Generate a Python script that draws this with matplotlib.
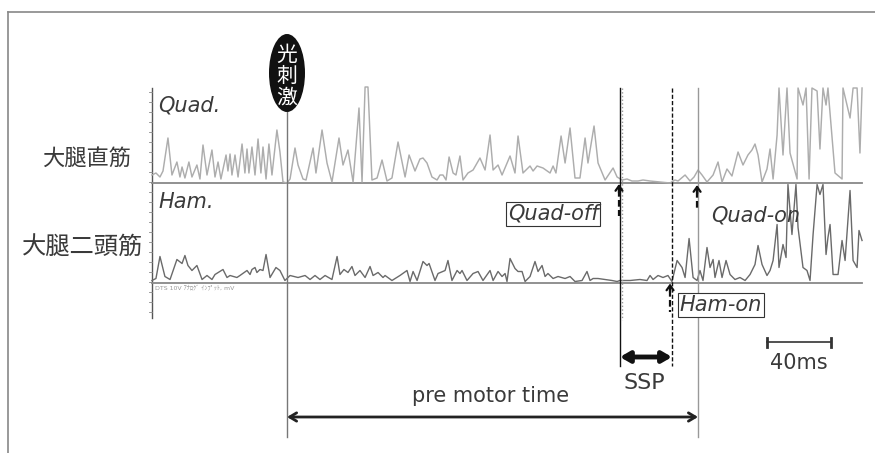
import numpy as np
import matplotlib
matplotlib.use('Agg')
import matplotlib.pyplot as plt
from matplotlib.patches import Ellipse

# EMG envelope vertices, time in ms from the light stimulus, amplitude in trace units
quad_t = [-84.4, -81.9, -79.4, -77.5, -74.4, -71.9, -68.8, -66.9, -65.6, -63.8,
          -61.3, -59.4, -56.3, -54.4, -52.5, -50.0, -46.9, -45.0, -43.1, -41.3,
          -38.1, -36.9, -35.6, -34.4, -32.5, -30.6, -28.1, -26.3, -25.0, -23.8,
          -21.9, -20.0, -18.1, -16.3, -15.0, -13.1, -11.3, -9.4, -6.3, -4.4,
          -2.5, 0.0,
          1.9, 5.0, 6.9, 10.0, 11.9, 16.3, 18.1, 21.9, 25.0, 28.1,
          32.5, 35.0, 38.1, 41.3, 45.0, 46.9, 48.8, 50.6, 53.1, 56.3,
          59.4, 62.5, 65.6, 69.4, 73.8, 76.3, 80.0, 83.1, 85.0, 87.5,
          90.6, 93.8, 95.6, 97.5, 99.4, 101.3, 103.8, 105.6, 108.1, 110.0,
          113.1, 116.3, 120.6, 123.8, 126.9, 128.8, 131.9, 134.4, 139.4, 142.5,
          144.4, 147.5, 151.9, 153.8, 156.3, 160.0, 164.4, 166.3, 168.1, 171.3,
          173.8, 176.9, 180.0, 183.1, 186.3, 188.1, 191.9, 194.4, 198.8, 203.8,
          206.3, 209.4, 212.5, 215.6, 219.4, 222.5, 226.9, 233.1, 239.4, 242.5,
          244.4, 248.8, 251.9, 254.4, 256.9, 259.4, 262.5, 266.3, 269.4, 271.9,
          275.0, 278.1, 281.9, 285.0, 288.1, 290.6, 292.5, 294.4, 296.9, 300.0,
          301.9, 303.8, 306.3, 307.5, 310.0, 312.5, 314.4, 318.8, 319.4, 322.5,
          324.4, 326.3, 328.1, 331.3, 333.1, 335.0, 336.9, 338.1,
          342.5, 346.9, 347.5, 351.9, 353.8, 356.3, 358.1, 359.4]
quad_amp = [8, 10, 6, 12, 45, 8, 21, 6, 16, 5,
            21, 6, 18, 4, 38, 8, 33, 6, 21, 4,
            28, 12, 29, 8, 28, 6, 39, 10, 34, 10,
            36, 8, 44, 10, 36, 4, 39, 8, 53, 31,
            1, 0,
            4, 35, 18, 4, 3, 35, 10, 53, 20, 1,
            45, 18, 33, 1, 75, 1, 96, 96, 3, 5,
            23, 2, 5, 41, 6, 28, 12, 24, 25, 20,
            6, 3, 8, 8, 3, 26, 10, 8, 27, 3,
            10, 13, 25, 13, 48, 13, 18, 8, 27, 10,
            47, 10, 17, 12, 17, 15, 10, 17, 10, 47,
            20, 55, 5, 5, 45, 20, 57, 20, 3, 15,
            6, 3, 4, 2, 2, 3, 2, 1, 0, 3,
            2, 8, 2, 6, 13, 8, 1, 8, 21, 1,
            14, 7, 31, 18, 28, 33, 39, 28, 1, 14,
            34, 4, 48, 95, 28, 95, 30, 4, 95, 78,
            95, 4, 95, 92, 34, 95, 78, 95,
            10, 4, 95, 65, 95, 95, 30, 95]

ham_t = [-84.4, -81.9, -79.4, -76.3, -73.1, -68.8, -65.6, -63.8, -61.9, -59.4,
         -56.3, -53.1, -50.0, -46.9, -45.0, -40.0, -37.5, -35.6, -31.3, -29.4,
         -25.0, -23.1, -21.9, -20.0, -18.8, -16.9, -15.0, -13.1, -10.6, -6.9,
         -4.4, -1.3, 1.9, 6.9, 11.3, 14.4, 17.5, 20.6, 23.8, 28.1,
         31.3, 33.1, 35.6, 38.1, 40.6, 42.5, 45.6, 48.8, 51.9, 53.8,
         56.9, 60.0,
         61.3, 65.6, 70.6, 75.0, 76.9, 78.8, 81.3, 85.0,
         87.5, 88.8, 92.5, 94.4, 98.8, 100.6, 103.1, 106.3, 108.1, 109.4,
         112.5, 116.3, 119.4, 122.5, 126.9, 128.8, 131.9, 134.4, 136.3, 137.5,
         139.4, 142.5, 144.4, 146.9, 148.8, 151.9, 155.0, 156.9, 159.4, 161.3,
         163.1, 166.3, 169.4, 173.8, 176.9, 180.0, 184.4, 187.5, 189.4, 191.3,
         194.4, 198.8, 203.1, 206.3,
         208.1, 214.4, 220.6, 225.0, 226.9, 228.8,
         231.9, 235.0, 238.1, 240.6, 243.8, 246.9, 248.8, 251.3, 253.8, 256.3,
         258.1, 260.0, 262.5, 264.4, 266.3, 267.5, 270.0, 271.9, 274.4, 276.9,
         280.0, 283.1, 286.3, 289.4, 292.5, 294.4, 296.9, 300.0, 301.9, 303.8,
         306.3, 307.5, 310.0, 311.9, 313.1, 315.6, 318.1, 319.4, 322.5, 325.0,
         326.9, 328.8, 331.3, 333.1, 335.0, 336.9, 338.1, 339.4, 341.3, 344.4,
         346.9, 348.8, 351.9, 353.8, 356.3, 357.5, 359.4]
ham_amp = [2, 4, 26, 6, 3, 23, 19, 27, 17, 12,
           17, 3, 7, 3, 8, 13, 5, 7, 5, 7,
           12, 8, 13, 15, 10, 13, 12, 28, 5, 15,
           12, 2, 7, 5, 7, 3, 7, 3, 7, 3,
           26, 8, 13, 10, 16, 7, 12, 5, 16, 7,
           10, 5,
           7, 2, 7, 12, 1, 11, 2, 21,
           17, 19, 2, 9, 12, 22, 2, 12, 9, 12,
           2, 9, 11, 2, 12, 2, 11, 6, 9, 1,
           24, 14, 11, 11, 1, 6, 21, 11, 17, 6,
           9, 4, 6, 4, 6, 1, 2, 11, 2, 4,
           4, 3, 2, 1,
           2, 2, 3, 2, 7, 3,
           7, 5, 7, 1, 22, 15, 5, 44, 5, 2,
           12, 2, 35, 15, 23, 5, 22, 5, 22, 8,
           3, 5, 2, 8, 18, 37, 18, 7, 12, 22,
           58, 15, 38, 25, 98, 48, 98, 55, 15, 12,
           2, 48, 98, 88, 98, 28, 45, 58, 8, 8,
           42, 22, 92, 22, 15, 52, 42]

# event times (ms after the light stimulus)
t_stim = 0.0
t_quad_off = 208.1
t_ham_on = 240.6
t_quad_on = 256.9
scale_start, scale_len = 300.0, 40.0

assert len(quad_t) == len(quad_amp) and len(ham_t) == len(ham_amp)

W, H = 875, 453
PX_PER_MS = 1.6
STIM_PX = 287
QUAD_BASE = 183
HAM_BASE = 282.5
TOP = 88


def ms(x_px):
    return (x_px - STIM_PX) / PX_PER_MS


jp = ['Noto Sans CJK JP', 'DejaVu Sans']
ink = '#3a3a3a'

fig = plt.figure(figsize=(W / 100, H / 100), dpi=100)
ax = fig.add_axes([0, 0, 1, 1])
ax.set_xlim(ms(0), ms(W))
ax.set_ylim(H, 0)
ax.axis('off')

# frame
ax.plot([ms(8), ms(W)], [12, 12], color='#888888', lw=1.2)
ax.plot([ms(8), ms(8)], [12, H], color='#888888', lw=1.2)

# recorder axis with ticks
ax.plot([ms(152), ms(152)], [TOP, 318], color='#555555', lw=1.0)
for y in np.arange(92, 318, 10):
    ax.plot([ms(149), ms(152)], [y, y], color='#888888', lw=0.6)

# baselines
ax.plot([ms(152), ms(862)], [QUAD_BASE, QUAD_BASE], color='#888888', lw=1.3)
ax.plot([ms(152), ms(862)], [HAM_BASE, HAM_BASE], color='#888888', lw=1.3)

# traces
ax.plot(quad_t, QUAD_BASE - np.array(quad_amp), color='#adadad', lw=1.05,
        solid_joinstyle='round')
ax.plot(ham_t, HAM_BASE - np.array(ham_amp), color='#6a6a6a', lw=1.0,
        solid_joinstyle='round')

# event lines
ax.plot([t_stim, t_stim], [112, 437], color='#777777', lw=1.0)
ax.plot([t_quad_off, t_quad_off], [TOP, 366], color='#111111', lw=1.0)
ax.plot([t_quad_off + 1.2, t_quad_off + 1.2], [TOP, 320], color='#999999', lw=1.0, ls=':')
ax.plot([t_ham_on, t_ham_on], [TOP, 366], color='#111111', lw=1.0, ls=(0, (3, 1.5)))
ax.plot([t_quad_on, t_quad_on], [TOP, 437], color='#999999', lw=1.0)


# small onset / offset arrows
def up_arrow(t, y_tip, y_tail):
    ax.plot([t, t], [y_tip + 6, y_tail], color='#111111', lw=1.6, ls=(0, (3, 1.5)))
    ax.annotate('', xy=(t, y_tip), xytext=(t, y_tip + 9),
                arrowprops=dict(arrowstyle='->,head_length=0.35,head_width=0.25',
                                color='#111111', lw=1.6, shrinkA=0, shrinkB=0))


up_arrow(t_quad_off - 0.6, QUAD_BASE + 1, 216)
up_arrow(t_quad_on - 0.6, QUAD_BASE + 2, 210)
up_arrow(t_ham_on - 1.2, HAM_BASE + 1, 312)

# light stimulus marker
ax.add_patch(Ellipse((t_stim, 73), width=36 / PX_PER_MS, height=78, fc='#111111', ec='none', zorder=5))
ax.text(t_stim, 76, '光\n刺\n激', color='white', fontsize=15, family=jp,
        ha='center', va='center', linespacing=0.95, zorder=6)

# labels
ax.text(ms(158), 105, 'Quad.', fontsize=15, style='italic', color=ink, ha='left', va='center')
ax.text(ms(158), 202, 'Ham.', fontsize=15, style='italic', color=ink, ha='left', va='center')
ax.text(ms(42), 158, '大腿直筋', fontsize=16, family=jp, color=ink, ha='left', va='center')
ax.text(ms(22), 247, '大腿二頭筋', fontsize=17.5, family=jp, color=ink, ha='left', va='center')
ax.text(ms(155), 288, 'DTS 10V ｱﾅﾛｸﾞ ｲﾝﾌﾟｯﾄ, mV', fontsize=4.5, color='#999999',
        family=['DejaVu Sans', 'Noto Sans CJK JP'], ha='left', va='center')

box = dict(boxstyle='square,pad=0.08', fc='white', ec='#333333', lw=0.8)
ax.text(ms(553), 214, 'Quad-off', fontsize=15, style='italic', color=ink,
        ha='center', va='center', bbox=box, zorder=7)
ax.text(ms(721), 305, 'Ham-on', fontsize=15, style='italic', color=ink,
        ha='center', va='center', bbox=box, zorder=7)
ax.text(ms(756), 215, 'Quad-on', fontsize=15, style='italic', color=ink,
        ha='center', va='center', zorder=7)

# SSP
ax.annotate('', xy=(t_ham_on, 357), xytext=(t_quad_off, 357),
            arrowprops=dict(arrowstyle='<|-|>,head_length=0.55,head_width=0.32',
                            color='#111111', lw=3.5, shrinkA=0, shrinkB=0))
ax.text((t_quad_off + t_ham_on) / 2 - 1, 383, 'SSP', fontsize=16, color=ink, ha='center', va='center')

# pre motor time
ax.annotate('', xy=(t_quad_on, 417), xytext=(t_stim, 417),
            arrowprops=dict(arrowstyle='<->,head_length=0.5,head_width=0.3',
                            color='#222222', lw=2.0, shrinkA=0, shrinkB=0))
ax.text(ms(491), 396, 'pre motor time', fontsize=15, color=ink, ha='center', va='center')

# 40 ms scale bar
ax.plot([scale_start, scale_start + scale_len], [342, 342], color='#333333', lw=1.2)
for t in (scale_start, scale_start + scale_len):
    ax.plot([t, t], [338, 347], color='#333333', lw=2.0)
ax.text(scale_start + scale_len / 2, 363, '40ms', fontsize=15, color=ink, ha='center', va='center')

fig.savefig('out.png', dpi=100)
